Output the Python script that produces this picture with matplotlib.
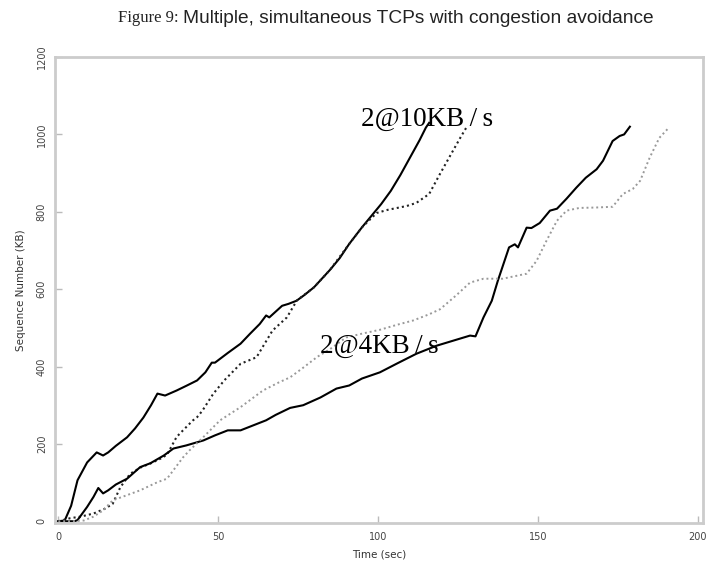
import matplotlib
matplotlib.use("Agg")
import matplotlib.pyplot as plt

# 10KB/s flow 1 (solid black)
t_a = [0, 2, 4, 6, 9, 12, 14, 15.6, 18, 21.5, 24, 26.6, 29, 31, 33.4, 37, 40, 43.4, 46, 48, 49, 53, 57, 60, 63, 65, 66, 70, 72, 74.5, 77, 80, 85, 88, 91, 95, 98.5, 101, 104, 107, 110, 113, 115, 116]
v_a = [0, 2, 40, 106, 152, 178, 170, 178, 195, 217, 240, 268, 300, 330, 325, 338, 350, 364, 385, 410, 410, 435, 459, 485, 510, 532, 527, 557, 562, 570, 585, 605, 650, 680, 717, 760, 795, 820, 854, 895, 940, 985, 1018, 1030]

# 10KB/s flow 2 (dark dotted)
t_b = [0, 3.75, 7, 11, 14.7, 17, 19.4, 22.5, 26, 29, 32, 34, 37, 39, 42, 43.4, 45, 48.5, 52, 57, 62, 67, 71.5, 74, 74.5, 80, 85, 91, 95, 99.6, 103, 106, 109, 112, 116, 119.4, 123.4, 126, 127.8]
v_b = [0, 8, 12, 20, 33, 45, 88, 123, 140, 150, 162, 172, 218, 235, 260, 269, 285, 330, 365, 407, 424, 493, 527, 562, 570, 605, 650, 717, 760, 797, 805, 810, 815, 823, 846, 898, 957, 995, 1020]

# 4KB/s flow 1 (solid black)
t_c = [0, 5, 6, 9, 11, 12.5, 14, 15.6, 18, 21.5, 25.6, 28.8, 33, 36, 40, 45.4, 49, 53, 57, 61, 65, 68, 72.5, 76.6, 82, 87, 91, 95, 100.6, 106, 112, 118.4, 122, 125.6, 128.8, 130.5, 133, 135.6, 137.5, 141, 142.8, 143.8, 146.5, 148, 150.6, 153.8, 156, 159, 162, 165, 168.4, 170.4, 173.4, 175.6, 177, 178.8]
v_c = [0, 0, 3, 37, 63, 86, 72, 80, 95, 110, 140, 150, 170, 188, 196, 209, 222, 235, 235, 248, 261, 275, 293, 300, 320, 343, 351, 369, 385, 408, 433, 454, 463, 472, 480, 478, 527, 570, 622, 708, 716, 708, 759, 758, 771, 803, 808, 834, 862, 888, 910, 932, 983, 996, 1000, 1020]

# 4KB/s flow 2 (light grey dotted)
t_d = [0, 4, 8, 11, 14, 17, 20, 25.6, 31, 34, 36, 39, 41, 45.3, 50.6, 57, 64, 69, 72.5, 76.6, 81, 85, 90, 95, 100.6, 106, 111, 116, 119.4, 122.5, 124.6, 128.8, 133, 139, 146.5, 149.6, 152.7, 156, 159, 163, 168, 173.4, 176.6, 179.7, 182, 185, 188, 190.6]
v_d = [0, 0, 2, 12, 28, 54, 63, 80, 101, 110, 132, 165, 183, 217, 261, 295, 338, 359, 372, 397, 425, 445, 475, 485, 495, 508, 519, 535, 548, 570, 585, 617, 627, 627, 640, 673, 725, 777, 803, 810, 811, 813, 846, 859, 880, 940, 991, 1014]

x_ticks = [0, 50, 100, 150, 200]
y_ticks = [0, 200, 400, 600, 800, 1000, 1200]
labels = [("2@10KB\u2009/\u2009s", 115.5, 1040), ("2@4KB\u2009/\u2009s", 100.5, 453)]

fig = plt.figure(figsize=(7.07, 5.65), dpi=100)
ax = fig.add_axes([0.078, 0.074, 0.916, 0.825])

ax.plot(t_a, v_a, color="black", lw=1.5, solid_joinstyle="round")
ax.plot(t_b, v_b, color="#222222", lw=1.5, linestyle=(0, (1, 1.5)))
ax.plot(t_c, v_c, color="black", lw=1.5, solid_joinstyle="round")
ax.plot(t_d, v_d, color="#999999", lw=1.4, linestyle=(0, (1, 1.5)))

for txt, x, y in labels:
    ax.text(x, y, txt, fontsize=19.5, family=["Liberation Serif", "DejaVu Serif"], ha="center", va="center", color="black")

ax.set_xlim(-1, 201.6)
ax.set_ylim(-5, 1200)
ax.set_xticks(x_ticks)
ax.set_yticks(y_ticks)
ax.set_xticklabels([str(v) for v in x_ticks])
ax.set_yticklabels([str(v) for v in y_ticks], rotation=90, va="center")
ax.tick_params(direction="in", length=5, width=1, color="#bbbbbb", labelsize=7, labelcolor="#444444", pad=6)
for s in ax.spines.values():
    s.set_color("#cccccc")
    s.set_linewidth(2)
ax.set_xlabel("Time (sec)", fontsize=7.5, color="#333333", labelpad=6)
ax.set_ylabel("Sequence Number (KB)", fontsize=7.5, color="#333333", labelpad=8)

fig.text(0.167, 0.968, "Figure 9:", family="Liberation Serif", fontsize=12, va="center", ha="left", color="#222222")
fig.text(0.259, 0.968, "Multiple, simultaneous TCPs with congestion avoidance", family="Liberation Sans", fontsize=13.8, va="center", ha="left", color="#222222")

fig.savefig("out.png", dpi=100)
